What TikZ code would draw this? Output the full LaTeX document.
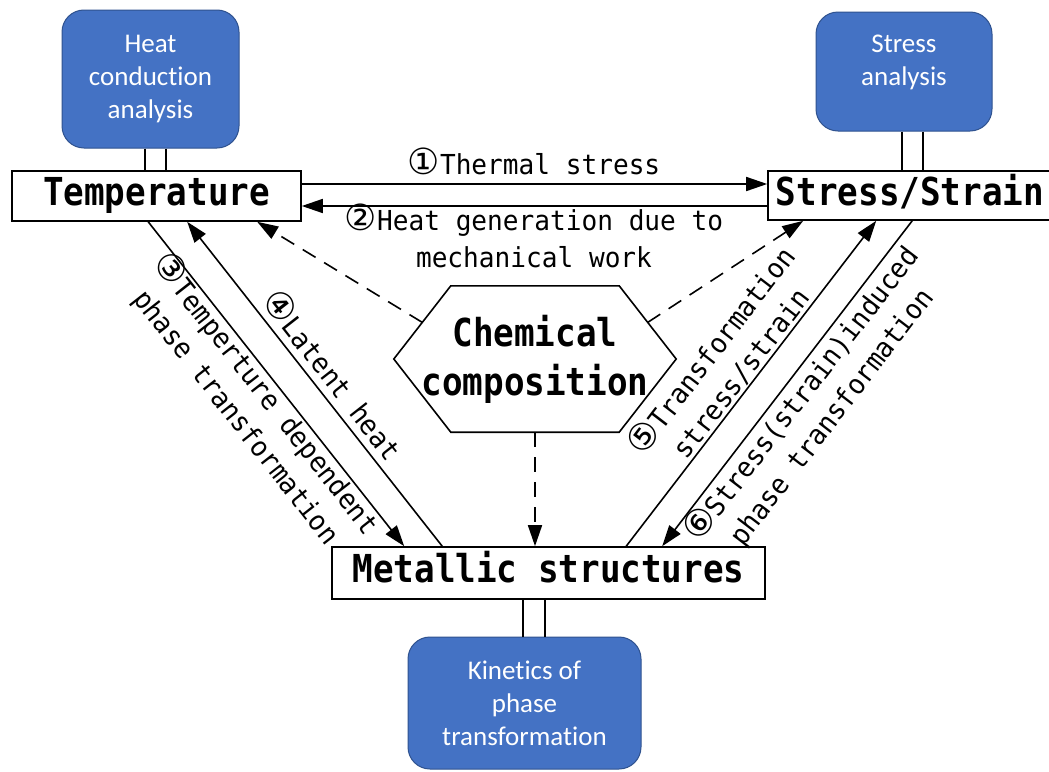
\documentclass[tikz,border=0pt]{standalone}
\usepackage{fontspec}
\setmainfont{DejaVu Sans Mono}
\newfontfamily\mainlab[FakeStretch=0.89]{DejaVu Sans Mono}
\newfontfamily\edgelab[FakeStretch=0.95]{DejaVu Sans Mono}
\newfontfamily\circfont{DejaVu Sans}
\newfontfamily\calib[Ligatures=NoCommon]{Carlito}
\usetikzlibrary{arrows.meta,calc}
\definecolor{blueA}{HTML}{4472C4}
\definecolor{bluedark}{HTML}{2F528F}
\newcommand\circnum[1]{{\circfont\fontsize{36pt}{37pt}\selectfont#1}}
\tikzset{
  conn/.style={line width=1.6pt},
  arr/.style={conn,-{Triangle[length=21pt,width=14pt]}},
  dasharr/.style={arr,dash pattern=on 15pt off 10pt},
  mainbox/.style={draw,line width=1.6pt,fill=white,inner sep=0pt,
    font={\mainlab\bfseries\fontsize{38.5pt}{49pt}\selectfont},
    text height=28pt,text depth=9pt},
  hexlabel/.style={inner sep=0pt,align=center,
    font={\mainlab\bfseries\fontsize{38.5pt}{49pt}\selectfont}},
  bluebox/.style={draw=bluedark,fill=blueA,rounded corners=22pt,line width=1pt,
    text=white,align=center,inner sep=0pt,
    font={\calib\fontsize{27pt}{33pt}\selectfont}},
  edgelabel/.style={align=center,inner sep=0pt,
    font={\edgelab\fontsize{27.5pt}{37pt}\selectfont}},
}
\begin{document}
\begin{tikzpicture}[x=1pt,y=-1pt]
\useasboundingbox (0,0) rectangle (1049,771);
\clip (0,0) rectangle (1049,771);
\fill[white] (0,0) rectangle (1049,771);

% main nodes
\node[mainbox,minimum width=289pt,minimum height=50pt] (temp) at (156.5,196) {Temperature};
\node[mainbox,minimum width=284pt,minimum height=49pt] (stress) at (910,195.5) {Stress/Strain};
\node[mainbox,minimum width=433pt,minimum height=52pt] (metal) at (548.5,573) {Metallic structures};
\node[hexlabel,minimum width=282pt,minimum height=146pt] (hex) at (535,359) {Chemical\\composition};
\draw[conn] (hex.west) -- ([xshift=57pt]hex.north west) -- ([xshift=-57pt]hex.north east)
  -- (hex.east) -- ([xshift=-57pt]hex.south east) -- ([xshift=57pt]hex.south west) -- cycle;

% blue boxes
\node[bluebox,minimum width=177pt,minimum height=138pt] (heat) at (150.5,79) {Heat\\conduction\\analysis};
\node[bluebox,minimum width=176pt,minimum height=119pt] (stressan) at (904,71.5) {Stress\\analysis\rule[-22pt]{0pt}{0pt}};
\node[bluebox,minimum width=233pt,minimum height=132pt] (kin) at (524.5,703) {Kinetics of\\phase\\transformation};

% double connectors
\draw[conn] ($(heat.south)+(-5.5,0)$) -- ($(heat.south |- temp.north)+(-5.5,0)$);
\draw[conn] ($(heat.south)+(15.5,0)$) -- ($(heat.south |- temp.north)+(15.5,0)$);
\draw[conn] ($(stressan.south)+(-2,0)$) -- ($(stressan.south |- stress.north)+(-2,0)$);
\draw[conn] ($(stressan.south)+(19,0)$) -- ($(stressan.south |- stress.north)+(19,0)$);
\draw[conn] ($(metal.south -| kin.north)+(-1.5,0)$) -- ($(kin.north)+(-1.5,0)$);
\draw[conn] ($(metal.south -| kin.north)+(20.5,0)$) -- ($(kin.north)+(20.5,0)$);

% horizontal arrows
\draw[arr] ($(temp.east)+(0,-12)$) -- ($(temp.east -| stress.west)+(0,-12)$);
\draw[arr] ($(stress.west |- temp.east)+(0,10)$) -- ($(temp.east)+(0,10)$);
\node[edgelabel,anchor=base] (l1) at (534,174) {\circnum{①}Thermal stress};
\node[edgelabel] (l2) at (534,235.5) {\circnum{②}Heat generation due to\\mechanical work};

% diagonal arrows
\draw[arr] ([xshift=137pt]temp.south west) -- ([xshift=73pt]metal.north west);
\draw[arr] ([xshift=111pt]metal.north west) -- ([xshift=176pt]temp.south west);
\draw[arr] ([xshift=295pt]metal.north west) -- ([xshift=109pt]stress.south west);
\draw[arr] ([xshift=145pt]stress.south west) -- ([xshift=331pt]metal.north west);
\node[edgelabel,rotate=-51.9] (l3) at (252,405) {\circnum{③}Temperture dependent\\phase transformation};
\node[edgelabel,rotate=-51.9] (l4) at (334,374) {\circnum{④}Latent heat};
\node[edgelabel,rotate=52.5] (l5) at (725,361) {\circnum{⑤}Transformation\\stress/strain};
\node[edgelabel,rotate=52.5] (l6) at (816,405) {\circnum{⑥}Stress(strain)induced\\phase transformation};

% dashed arrows from chemical composition
\draw[dasharr] ($(hex.west)!0.5!([xshift=57pt]hex.north west)$) -- ([xshift=246pt]temp.south west);
\draw[dasharr] ($(hex.east)!0.5!([xshift=-57pt]hex.north east)$) -- ([xshift=36pt]stress.south west);
\draw[dasharr] (hex.south) -- (hex.south |- metal.north);
\end{tikzpicture}
\end{document}
